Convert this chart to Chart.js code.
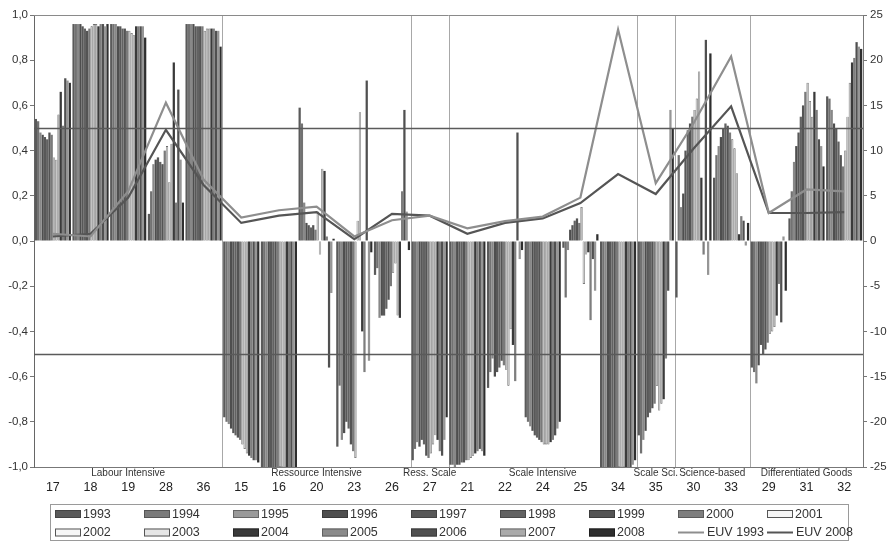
<!DOCTYPE html>
<html>
<head>
<meta charset="utf-8">
<script src="https://cdn.jsdelivr.net/npm/chart.js@4.4.1/dist/chart.umd.min.js"></script>
<style>
  html, body { margin: 0; padding: 0; background: #ffffff; }
  #wrap { width: 895px; height: 542px; position: relative; }
</style>
</head>
<body>
<div id="wrap"><canvas id="c" width="895" height="542"></canvas></div>
<script>
// Industries (NACE codes) in display order, with their technology groups
const industries = ['17','18','19','28','36','15','16','20','23','26','27','21','22','24','25','34','35','30','33','29','31','32'];
const groupNames = ['Labour Intensive','Ressource Intensive','Ress. Scale','Scale Intensive','Scale Sci.','Science-based','Differentiated Goods'];
const groupSizes = [5, 5, 1, 5, 1, 2, 3];
const years = ['1993','1994','1995','1996','1997','1998','1999','2000','2001','2002','2003','2004','2005','2006','2007','2008'];

// Specialisation index per industry, one value per year 1993..2008 (left axis)
const ind17 = [0.54,0.53,0.48,0.47,0.46,0.45,0.48,0.47,0.37,0.36,0.56,0.66,0.51,0.72,0.71,0.70];
const ind18 = [0.96,0.96,0.96,0.96,0.95,0.94,0.93,0.94,0.95,0.96,0.96,0.95,0.96,0.96,0.95,0.96];
const ind19 = [0.96,0.96,0.96,0.95,0.95,0.94,0.94,0.93,0.93,0.92,0.91,0.95,0.95,0.95,0.95,0.90];
const ind28 = [0.12,0.22,0.34,0.36,0.37,0.35,0.34,0.40,0.42,0.26,0.43,0.79,0.17,0.67,0.36,0.17];
const ind36 = [0.96,0.96,0.96,0.96,0.95,0.95,0.95,0.95,0.93,0.94,0.94,0.94,0.94,0.93,0.93,0.86];
const ind15 = [-0.78,-0.80,-0.81,-0.83,-0.85,-0.86,-0.87,-0.88,-0.90,-0.92,-0.94,-0.95,-0.96,-0.97,-0.97,-0.98];
const ind16 = [-1.00,-1.00,-1.00,-1.00,-1.00,-1.00,-1.00,-1.00,-1.00,-1.00,-1.00,-1.00,-1.00,-1.00,-1.00,-1.00];
const ind20 = [0.59,0.52,0.17,0.08,0.07,0.06,0.07,0.05,0.13,-0.06,0.32,0.31,0.02,-0.56,-0.23,0.01];
const ind23 = [-0.91,-0.64,-0.88,-0.85,-0.80,-0.83,-0.90,-0.93,-0.96,0.09,0.57,-0.40,-0.58,0.71,-0.53,-0.05];
const ind26 = [-0.15,-0.12,-0.34,-0.33,-0.33,-0.30,-0.26,-0.20,-0.14,-0.10,-0.33,-0.34,0.22,0.58,0.13,-0.04];
const ind27 = [-0.97,-0.92,-0.89,-0.91,-0.88,-0.90,-0.95,-0.96,-0.94,-0.90,-0.86,-0.88,-0.93,-0.95,-0.88,-0.78];
const ind21 = [-0.99,-0.99,-1.00,-0.99,-0.99,-0.98,-0.98,-0.97,-0.97,-0.96,-0.95,-0.94,-0.93,-0.92,-0.93,-0.95];
const ind22 = [-0.65,-0.58,-0.52,-0.60,-0.58,-0.56,-0.53,-0.55,-0.57,-0.64,-0.39,-0.46,-0.62,0.48,-0.08,-0.04];
const ind24 = [-0.78,-0.80,-0.82,-0.84,-0.86,-0.87,-0.88,-0.89,-0.90,-0.90,-0.90,-0.89,-0.88,-0.86,-0.83,-0.80];
const ind25 = [-0.03,-0.25,-0.04,0.05,0.07,0.09,0.10,0.08,0.15,-0.19,-0.06,-0.05,-0.35,-0.08,-0.22,0.03];
const ind34 = [-1.00,-1.00,-1.00,-1.00,-1.00,-1.00,-1.00,-1.00,-1.00,-1.00,-1.00,-1.00,-1.00,-1.00,-0.99,-0.97];
const ind35 = [-0.86,-0.94,-0.88,-0.84,-0.78,-0.76,-0.74,-0.72,-0.64,-0.75,-0.72,-0.70,-0.52,-0.22,0.58,0.50];
const ind30 = [-0.25,0.38,0.15,0.21,0.40,0.49,0.52,0.55,0.58,0.63,0.75,0.28,-0.06,0.89,-0.15,0.83];
const ind33 = [0.28,0.38,0.42,0.46,0.50,0.52,0.51,0.48,0.45,0.41,0.30,0.03,0.11,0.09,-0.02,0.08];
const ind29 = [-0.56,-0.58,-0.63,-0.55,-0.46,-0.50,-0.48,-0.45,-0.41,-0.40,-0.38,-0.33,-0.19,-0.36,0.02,-0.22];
const ind31 = [0.10,0.22,0.35,0.42,0.48,0.55,0.60,0.66,0.70,0.62,0.55,0.66,0.58,0.45,0.42,0.33];
const ind32 = [0.64,0.63,0.58,0.52,0.50,0.44,0.38,0.33,0.40,0.55,0.70,0.79,0.81,0.88,0.86,0.85];

// Export unit values (right axis)
const euv1993 = [0.8,0.5,5.5,15.3,6.8,2.6,3.4,3.8,0.5,2.3,2.8,1.4,2.2,2.7,4.8,23.4,6.4,13.0,20.4,3.1,5.7,5.5];
const euv2008 = [0.5,0.8,4.8,12.3,6.2,2.0,2.8,3.2,0.2,3.0,2.8,0.8,2.0,2.5,4.2,7.4,5.2,10.2,14.9,3.1,3.1,3.2];

// Threshold levels marked across the plot (left axis)
const refLevels = [0.5, -0.5];

const industryRows = [ind17,ind18,ind19,ind28,ind36,ind15,ind16,ind20,ind23,ind26,ind27,ind21,ind22,ind24,ind25,ind34,ind35,ind30,ind33,ind29,ind31,ind32];

// Greyscale fills per year; outlined years get a pale legend key
const barFill = ['#5a5a5a','#727272','#888888','#4e4e4e','#585858','#626262','#545454','#7a7a7a',
                 '#bcbcbc','#c4c4c4','#b2b2b2','#3a3a3a','#7e7e7e','#505050','#969696','#2e2e2e'];
const barEdge = ['#444','#555','#666','#3a3a3a','#444','#4a4a4a','#3c3c3c','#5a5a5a',
                 '#4a4a4a','#4a4a4a','#555','#262626','#606060','#3a3a3a','#6a6a6a','#1e1e1e'];
const barEdgeWidth = [0,0,0,0,0,0,0,0,0.6,0.6,0.6,0,0,0,0,0];
const legendKeyFill = ['#5a5a5a','#7a7a7a','#9a9a9a','#4e4e4e','#585858','#626262','#545454','#7e7e7e',
                       '#f6f6f6','#f6f6f6','#e6e6e6','#3a3a3a','#8a8a8a','#505050','#aaaaaa','#2e2e2e'];

const FONT = "'Liberation Sans', Arial, sans-serif";

const barSets = years.map((yr, j) => ({
  type: 'bar',
  label: yr,
  data: industryRows.map(row => row[j]),
  backgroundColor: barFill[j],
  borderColor: barEdge[j],
  borderWidth: barEdgeWidth[j],
  borderSkipped: false,
  yAxisID: 'y',
  order: 2,
  categoryPercentage: 0.96,
  barPercentage: 1.0
}));

const lineSets = [
  { type: 'line', label: 'EUV 1993', data: euv1993, borderColor: '#8e8e8e', borderWidth: 2.2,
    pointRadius: 0, tension: 0, yAxisID: 'y2', order: 0, fill: false },
  { type: 'line', label: 'EUV 2008', data: euv2008, borderColor: '#555555', borderWidth: 2.2,
    pointRadius: 0, tension: 0, yAxisID: 'y2', order: 1, fill: false }
];

// Separators, reference levels, frame, group captions and the legend box
const decor = {
  id: 'decor',
  beforeDatasetsDraw(chart) {
    const { ctx, chartArea: a, scales: { x } } = chart;
    ctx.save();
    ctx.strokeStyle = '#a8a8a8';
    ctx.lineWidth = 1;
    let idx = 0;
    groupSizes.slice(0, -1).forEach(n => {
      idx += n;
      const px = Math.round((x.getPixelForValue(idx - 1) + x.getPixelForValue(idx)) / 2) + 0.5;
      ctx.beginPath(); ctx.moveTo(px, a.top); ctx.lineTo(px, a.bottom); ctx.stroke();
    });
    ctx.strokeStyle = '#8a8a8a';
    ctx.beginPath(); ctx.moveTo(a.left, Math.round(a.top) + 0.5); ctx.lineTo(a.right, Math.round(a.top) + 0.5); ctx.stroke();
    ctx.restore();
  },
  afterDatasetsDraw(chart) {
    const { ctx, chartArea: a, scales: { y } } = chart;
    ctx.save();
    ctx.strokeStyle = '#5a5a5a';
    ctx.lineWidth = 1.3;
    refLevels.forEach(v => {
      const py = Math.round(y.getPixelForValue(v)) + 0.5;
      ctx.beginPath(); ctx.moveTo(a.left, py); ctx.lineTo(a.right, py); ctx.stroke();
    });
    ctx.restore();
  },
  afterDraw(chart) {
    const { ctx, chartArea: a, scales: { x } } = chart;
    ctx.save();
    // group captions
    ctx.fillStyle = '#333';
    ctx.font = '10px ' + FONT;
    ctx.textAlign = 'center';
    ctx.textBaseline = 'middle';
    let start = 0;
    groupNames.forEach((name, g) => {
      const end = start + groupSizes[g] - 1;
      const cx = (x.getPixelForValue(start) + x.getPixelForValue(end)) / 2;
      ctx.fillText(name, cx, a.bottom + 6);
      start = end + 1;
    });

    // legend: 9 columns x 2 rows
    const items = chart.data.datasets;
    const boxL = 50.5, boxT = 504.5, boxW = 798, boxH = 36;
    ctx.strokeStyle = '#9a9a9a';
    ctx.lineWidth = 1;
    ctx.strokeRect(boxL, boxT, boxW, boxH);
    ctx.font = '12.5px ' + FONT;
    ctx.textAlign = 'left';
    items.forEach((ds, i) => {
      const col = i % 9, row = Math.floor(i / 9);
      const x0 = 55 + col * 89;
      const cy = 514 + row * 18.5;
      if (ds.type === 'line') {
        ctx.strokeStyle = ds.borderColor;
        ctx.lineWidth = 2;
        ctx.beginPath(); ctx.moveTo(x0, cy); ctx.lineTo(x0 + 26, cy); ctx.stroke();
        ctx.fillStyle = '#333';
        ctx.fillText(ds.label, x0 + 29, cy + 0.5);
      } else {
        ctx.fillStyle = legendKeyFill[i];
        ctx.fillRect(x0, cy - 4, 26, 8);
        ctx.strokeStyle = ds.borderWidth > 0 ? '#555' : ds.borderColor;
        ctx.lineWidth = 1;
        ctx.strokeRect(x0 + 0.5, cy - 3.5, 25, 7);
        ctx.fillStyle = '#333';
        ctx.fillText(ds.label, x0 + 28, cy + 0.5);
      }
    });
    ctx.restore();
  }
};

const commaTick = v => (Math.abs(v) < 1e-9 ? 0 : v).toFixed(1).replace('.', ',');

new Chart(document.getElementById('c').getContext('2d'), {
  type: 'bar',
  data: { labels: industries, datasets: [...barSets, ...lineSets] },
  plugins: [decor],
  options: {
    responsive: false,
    animation: false,
    devicePixelRatio: 1,
    layout: { padding: { top: 15, left: 0, right: 0, bottom: 0 } },
    plugins: { legend: { display: false }, tooltip: { enabled: false } },
    scales: {
      x: {
        offset: true,
        grid: { display: false, drawTicks: false },
        border: { display: true, color: '#777', width: 1 },
        ticks: { padding: 13, autoSkip: false, maxRotation: 0, color: '#222',
                 font: { family: FONT, size: 12.5 } },
        afterFit(s) { s.height = 75; }
      },
      y: {
        position: 'left',
        min: -1, max: 1,
        grid: { display: true, drawOnChartArea: false, drawTicks: true, tickLength: 4, color: '#777' },
        border: { display: true, color: '#666', width: 1 },
        ticks: { stepSize: 0.2, padding: 2, color: '#333', callback: commaTick,
                 font: { family: FONT, size: 11.5 } },
        afterFit(s) { s.width = 34; }
      },
      y2: {
        position: 'right',
        min: -25, max: 25,
        grid: { display: true, drawOnChartArea: false, drawTicks: true, tickLength: 4, color: '#777' },
        border: { display: true, color: '#777', width: 1 },
        ticks: { stepSize: 5, padding: 3, color: '#333', font: { family: FONT, size: 11.5 } },
        afterFit(s) { s.width = 32; }
      }
    }
  }
});
</script>
</body>
</html>
